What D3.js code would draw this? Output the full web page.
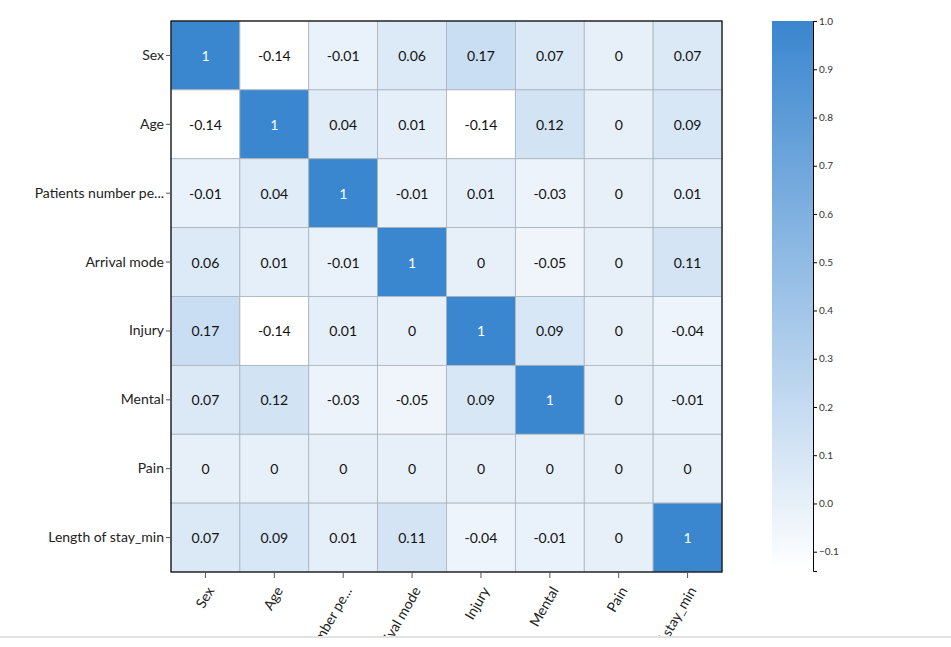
<!DOCTYPE html>
<html lang="en">
<head>
<meta charset="UTF-8">
<title>Correlation heatmap</title>
<script src="https://d3js.org/d3.v7.min.js"></script>
<style>
  body { margin: 0; background: #fff; font-family: Lato, "Open Sans", sans-serif; }
  #chart { border-bottom: 2px solid #e2e2e2; width: 951px; height: 636px; overflow: hidden; }
  .cell-text { font-family: Lato, sans-serif; font-size: 14px; text-anchor: middle; dominant-baseline: central; }
  .axis text { font-family: Lato, sans-serif; font-size: 14px; fill: #222; }
  .axis path { display: none; }
  .axis line { stroke: #555; }
  .cbar text { font-family: Lato, sans-serif; font-size: 10px; fill: #333; }
  .cbar path, .cbar line { stroke: #000; }
</style>
</head>
<body>
<div id="chart"></div>
<script>
// Data
const labels = ["Sex", "Age", "Patients number per hour", "Arrival mode", "Injury", "Mental", "Pain", "Length of stay_min"];
const matrix = [
  [1, -0.14, -0.01, 0.06, 0.17, 0.07, 0, 0.07],
  [-0.14, 1, 0.04, 0.01, -0.14, 0.12, 0, 0.09],
  [-0.01, 0.04, 1, -0.01, 0.01, -0.03, 0, 0.01],
  [0.06, 0.01, -0.01, 1, 0, -0.05, 0, 0.11],
  [0.17, -0.14, 0.01, 0, 1, 0.09, 0, -0.04],
  [0.07, 0.12, -0.03, -0.05, 0.09, 1, 0, -0.01],
  [0, 0, 0, 0, 0, 0, 0, 0],
  [0.07, 0.09, 0.01, 0.11, -0.04, -0.01, 0, 1]
];
const colorTicks = [-0.1, 0, 0.1, 0.2, 0.3, 0.4, 0.5, 0.6, 0.7, 0.8, 0.9, 1.0];

const W = 951, H = 636;
const mLeft = 171, mTop = 21, size = 551;

const svg = d3.select("#chart").append("svg")
  .attr("width", W).attr("height", H);

const x = d3.scaleBand().domain(labels).range([mLeft, mLeft + size]);
const y = d3.scaleBand().domain(labels).range([mTop, mTop + size]);

const vmin = -0.14, vmax = 1;
const color = d3.scaleLinear().domain([vmin, vmax]).range(["#ffffff", "#3a86cf"]);

// long names get cut like the original
const truncate = s => s.length > 18 ? s.slice(0, 18) + "..." : s;

const cells = [];
matrix.forEach((row, i) => row.forEach((v, j) => cells.push({ r: labels[i], c: labels[j], v })));

// cells
svg.append("g").selectAll("rect").data(cells).join("rect")
  .attr("x", d => x(d.c)).attr("y", d => y(d.r))
  .attr("width", x.bandwidth()).attr("height", y.bandwidth())
  .attr("fill", d => color(d.v))
  .attr("stroke", "#aab3bc").attr("stroke-width", 0.8);

svg.append("g").selectAll("text").data(cells).join("text")
  .attr("class", "cell-text")
  .attr("x", d => x(d.c) + x.bandwidth() / 2)
  .attr("y", d => y(d.r) + y.bandwidth() / 2)
  .attr("fill", d => d.v > 0.5 ? "#fff" : "#111")
  .text(d => d.v);

// frame
svg.append("rect")
  .attr("x", mLeft).attr("y", mTop).attr("width", size).attr("height", size)
  .attr("fill", "none").attr("stroke", "#000").attr("stroke-width", 1.2);

// y axis
svg.append("g").attr("class", "axis")
  .attr("transform", `translate(${mLeft},0)`)
  .call(d3.axisLeft(y).tickSize(5).tickPadding(2).tickFormat(truncate));

// x axis
const gx = svg.append("g").attr("class", "axis")
  .attr("transform", `translate(0,${mTop + size})`)
  .call(d3.axisBottom(x).tickSize(6).tickFormat(truncate));
gx.selectAll("text")
  .attr("text-anchor", "end")
  .attr("dy", "0.35em")
  .attr("transform", "translate(5,16) rotate(-60)")
  .attr("x", 0).attr("y", 0);

// colorbar
const cbX = 772, cbW = 41, cbTop = 21, cbBottom = 571;
const defs = svg.append("defs");
const grad = defs.append("linearGradient").attr("id", "cb")
  .attr("x1", 0).attr("y1", 1).attr("x2", 0).attr("y2", 0);
grad.append("stop").attr("offset", "0%").attr("stop-color", color(vmin));
grad.append("stop").attr("offset", "100%").attr("stop-color", color(vmax));
svg.append("rect")
  .attr("x", cbX).attr("y", cbTop).attr("width", cbW).attr("height", cbBottom - cbTop)
  .attr("fill", "url(#cb)");

const cy = d3.scaleLinear().domain([vmin, vmax]).range([cbBottom, cbTop]);
svg.append("g").attr("class", "cbar")
  .attr("transform", `translate(${cbX + cbW},0)`)
  .call(d3.axisRight(cy).tickValues(colorTicks).tickSize(4).tickPadding(2).tickFormat(d3.format(".1f")));
</script>
</body>
</html>
